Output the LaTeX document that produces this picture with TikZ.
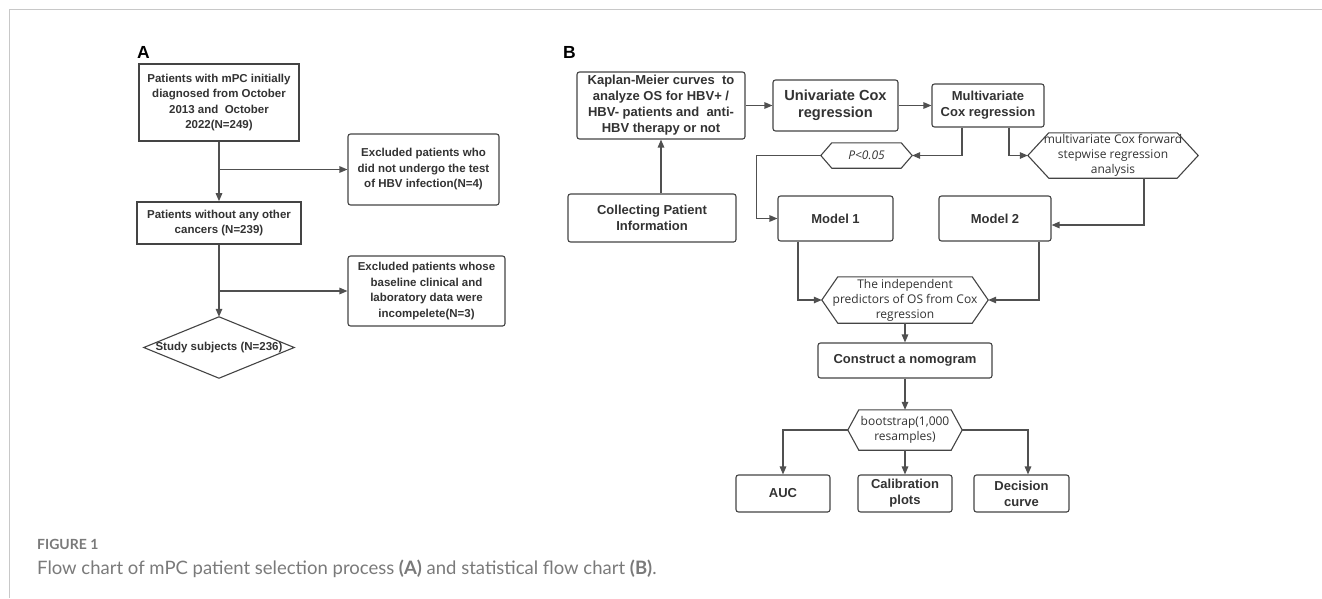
\documentclass[tikz,border=0pt]{standalone}
\usepackage{fontspec}
\setmainfont{Liberation Sans}
\newfontfamily\hexfont{Open Sans}
\newfontfamily\capfont{Lato}
\usetikzlibrary{arrows.meta}
\definecolor{ink}{HTML}{333333}
\definecolor{edgec}{HTML}{444444}
\definecolor{conn}{HTML}{505050}
\definecolor{framec}{HTML}{C8C8C8}
\definecolor{capgray}{HTML}{7A7A7A}
\newcommand\hexdraw[2]{\draw[draw=edgec, line width=1.1pt] (#1.west) -- ([xshift=#2]#1.north west) -- ([xshift=-#2]#1.north east) -- (#1.east) -- ([xshift=-#2]#1.south east) -- ([xshift=#2]#1.south west) -- cycle;}
\tikzset{
  abox/.style={draw=edgec, line width=1.6pt, inner sep=0pt, align=center, text=ink, font=\bfseries\fontsize{11.5}{15.5}\selectfont},
  arbox/.style={draw=edgec, line width=1.1pt, rounded corners=2.5pt, inner sep=0pt, align=center, text=ink, font=\bfseries\fontsize{11.5}{15.5}\selectfont},
  bbox/.style={draw=edgec, line width=1.1pt, rounded corners=2.5pt, inner sep=0pt, align=center, text=ink, font=\bfseries\fontsize{13}{16}\selectfont},
  hexnode/.style={inner sep=0pt, align=center, text=ink, font=\hexfont\fontsize{12}{15}\selectfont},
  arr/.style={draw=conn, line width=1.3pt, -{Triangle[length=8pt,width=6.5pt]}},
  panel/.style={anchor=base west, inner sep=0pt, text=black, font=\bfseries\fontsize{17.5}{20}\selectfont},
}
\begin{document}
\begin{tikzpicture}[x=1pt,y=-1pt]
\useasboundingbox (0,0) rectangle (1322,598);
\fill[white] (0,0) rectangle (1322,598);
\draw[framec, line width=1pt] (1322,9.5) -- (9.5,9.5) -- (9.5,598);

% ---------- Panel A ----------
\node[panel] (lblA) at (137,58.3) {A};
\node[abox, minimum width=160pt, minimum height=77pt] (a1) at (219,102.5)
  {Patients with mPC initially\\diagnosed from October\\2013 and\ \ October\\2022(N=249)};
\node[arbox, minimum width=151pt, minimum height=71pt] (ax1) at (423.5,169.5)
  {Excluded patients who\\did not undergo the test\\of HBV infection(N=4)};
\node[abox, minimum width=164pt, minimum height=42pt] (a2) at (219,223)
  {Patients without any other\\cancers (N=239)};
\node[arbox, minimum width=157pt, minimum height=70pt] (ax2) at (426.5,291)
  {Excluded patients whose\\baseline clinical and\\laboratory data were\\incompelete(N=3)};
\node[inner sep=0pt, minimum width=150pt, minimum height=61pt, text=ink,
      font=\bfseries\fontsize{11.5}{14}\selectfont] (dia) at (219,347.5) {Study subjects (N=236)};
\draw[draw=edgec, line width=1.1pt] (dia.north) -- (dia.east) -- (dia.south) -- (dia.west) -- cycle;

\coordinate (j1) at (a1.south |- ax1.west);
\coordinate (j2) at (a2.south |- ax2.west);
\draw[arr] (a1.south) -- (a2.north);
\draw[arr] (j1) -- (ax1.west);
\draw[arr] (a2.south) -- (dia.north);
\draw[arr] (j2) -- (ax2.west);

% ---------- Panel B ----------
\node[panel] (lblB) at (563,58.3) {B};
\node[bbox, minimum width=168pt, minimum height=67pt] (km) at (661,105.5)
  {Kaplan-Meier curves\ \ to\\analyze OS for HBV+ /\\HBV- patients and\ \ anti-\\HBV therapy or not};
\node[bbox, minimum width=125pt, minimum height=51pt, font=\bfseries\fontsize{14.6}{17}\selectfont] (uni) at (835.5,105.5)
  {Univariate Cox\\regression};
\node[bbox, minimum width=112pt, minimum height=43pt] (multi) at (988,105.5)
  {Multivariate\\Cox regression};
\node[bbox, minimum width=168pt, minimum height=48pt] (coll) at (652,218)
  {Collecting Patient\\Information};
\node[hexnode, minimum width=91pt, minimum height=25pt, font=\hexfont\itshape\fontsize{12}{15}\selectfont] (pval) at (866.5,155.5) {P<0.05};
\hexdraw{pval}{11pt}
\node[hexnode, minimum width=170pt, minimum height=45pt] (fwd) at (1113,155.5)
  {multivariate Cox forward\\stepwise regression\\analysis};
\hexdraw{fwd}{21pt}
\node[bbox, minimum width=115pt, minimum height=45pt] (m1) at (835.5,218.5) {Model 1};
\node[bbox, minimum width=112pt, minimum height=45pt] (m2) at (995,218.5) {Model 2};
\node[hexnode, minimum width=166pt, minimum height=46pt] (indep) at (905,300)
  {The independent\\predictors of OS from Cox\\regression};
\hexdraw{indep}{16pt}
\node[bbox, minimum width=174pt, minimum height=35pt] (nomo) at (905,360.5) {Construct a nomogram};
\node[hexnode, minimum width=114pt, minimum height=40pt] (boot) at (905,430)
  {bootstrap(1,000\\resamples)};
\hexdraw{boot}{11pt}
\node[bbox, minimum width=94pt, minimum height=37pt] (auc) at (783,493.5) {AUC};
\node[bbox, minimum width=94pt, minimum height=37pt] (cal) at (905,493.5) {Calibration\\plots};
\node[bbox, minimum width=95pt, minimum height=37pt] (dec) at (1021.5,493.5) {Decision\\curve};

\draw[arr] (km.south |- coll.north) -- (km.south);
\draw[arr] (km.east) -- (uni.west);
\draw[arr] (uni.east) -- (multi.west);
\draw[arr] ([xshift=-26pt]multi.south) |- (pval.east);
\draw[arr] ([xshift=21pt]multi.south) |- (fwd.west);
\draw[arr] (pval.west) -- ++(-64,0) |- (m1.west);
\draw[arr] ([xshift=31pt]fwd.south) |- ([yshift=-6.5pt]m2.east);
\draw[arr] ([xshift=-37.5pt]m1.south) |- (indep.west);
\draw[arr] ([xshift=44pt]m2.south) |- (indep.east);
\draw[arr] (indep.south) -- (nomo.north);
\draw[arr] (nomo.south) -- (boot.north);
\draw[arr] (boot.west) -| (auc.north);
\draw[arr] (boot.south) -- (cal.north);
\draw[arr] (boot.east) -| ([xshift=6.5pt]dec.north);

% ---------- Caption ----------
\node[anchor=base west, inner sep=0pt, text=capgray, font=\capfont\bfseries\fontsize{14}{16}\selectfont] (figlbl) at (37,549.5) {FIGURE 1};
\node[anchor=base west, inner sep=0pt, text=capgray, font=\capfont\fontsize{18.5}{20}\selectfont] (figcap) at (37,574)
  {Flow chart of mPC patient selection process {\bfseries(A)} and statistical flow chart {\bfseries(B)}.};
\end{tikzpicture}
\end{document}
